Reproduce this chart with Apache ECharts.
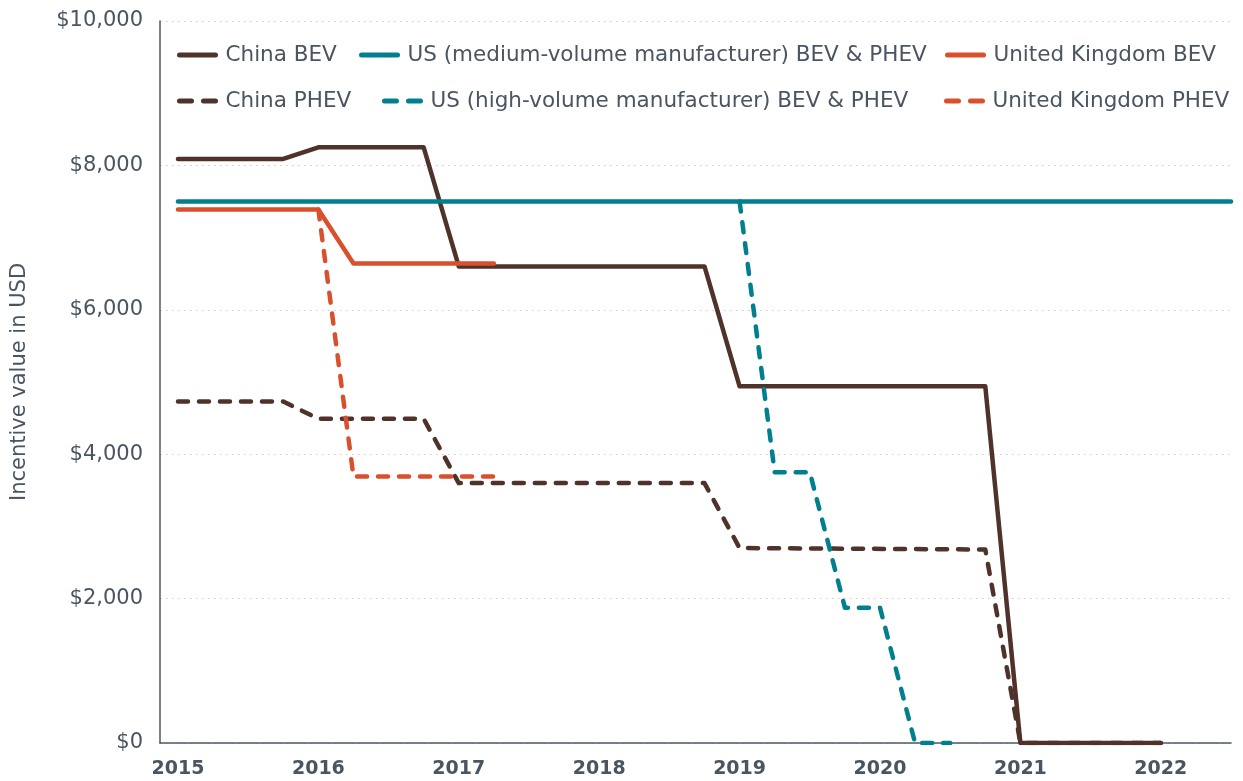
<!DOCTYPE html>
<html>
<head>
<meta charset="utf-8">
<title>Incentive value in USD</title>
<script src="https://cdn.jsdelivr.net/npm/echarts@6/dist/echarts.min.js"></script>
<style>
  html, body { margin: 0; padding: 0; background: #fff; }
  #chart { width: 1243px; height: 781px; }
</style>
</head>
<body>
<div id="chart"></div>
<script>
// ---------------- 数据 ----------------
var yearLabels = [2015, 2016, 2017, 2018, 2019, 2020, 2021, 2022];

var chinaBevYears  = [2015, 2015.75, 2016, 2016.75, 2017, 2018.75, 2019, 2020.75, 2021, 2022];
var chinaBevValues = [8090, 8090, 8250, 8250, 6600, 6600, 4940, 4940, 0, 0];

var chinaPhevYears  = [2015, 2015.75, 2016, 2016.75, 2017, 2018.75, 2019, 2020.75, 2021, 2022];
var chinaPhevValues = [4730, 4730, 4490, 4490, 3600, 3600, 2700, 2680, 0, 0];

var usMediumYears  = [2015, 2022.5];
var usMediumValues = [7500, 7500];

var usHighYears  = [2019, 2019.25, 2019.5, 2019.75, 2020, 2020.25, 2020.5];
var usHighValues = [7500, 3750, 3750, 1875, 1875, 0, 0];

var ukBevYears  = [2015, 2016, 2016.25, 2017.25];
var ukBevValues = [7390, 7390, 6640, 6640];

var ukPhevYears  = [2016, 2016.25, 2017.25];
var ukPhevValues = [7390, 3690, 3690];

// ---------------- 样式 ----------------
var BROWN = '#4f332a';
var TEAL = '#007f8e';
var RED = '#d9512c';
var TEXT = '#4a5562';
var FONT = 'DejaVu Sans';
var DASH = [10, 11];

function zip(xs, ys){
    var arr = [];
    for(var i=0; i<xs.length; i++){
        arr.push([xs[i], ys[i]]);
    }
    return arr;
}

function makeLine(name, xs, ys, color, dashed){
    return {
        name: name,
        type: 'line',
        data: zip(xs, ys),
        symbol: 'none',
        showSymbol: false,
        silent: true,
        lineStyle: {
            color: color,
            width: 4.5,
            type: dashed ? DASH : 'solid',
            cap: 'round',
            join: 'round'
        },
        itemStyle: { color: color }
    };
}

//图例：每项单独定位，图标只画线不画点
function makeLegend(name, left, top, dashed){
    return {
        data: [name],
        left: left,
        top: top,
        padding: 0,
        itemWidth: 36,
        itemHeight: 14,
        selectedMode: false,
        itemStyle: { opacity: 0, borderWidth: 0 },
        lineStyle: {
            width: 5,
            cap: 'round',
            type: dashed ? [12, 12] : 'solid'
        },
        textStyle: {
            color: TEXT,
            fontFamily: FONT,
            fontSize: 21.5,
            padding: [0, 0, 0, 5]
        }
    };
}

var myChart = echarts.init(document.getElementById('chart'));

var option = {
    animation: false,
    backgroundColor: '#fff',
    textStyle: { fontFamily: FONT },
    grid: {
        left: 160,
        top: 21,
        width: 1071,
        height: 722
    },
    legend: [
        makeLegend('China BEV', 177, 44, false),
        makeLegend('US (medium-volume manufacturer) BEV & PHEV', 359, 44, false),
        makeLegend('United Kingdom BEV', 945, 44, false),
        makeLegend('China PHEV', 177, 90, true),
        makeLegend('US (high-volume manufacturer) BEV & PHEV', 382, 90, true),
        makeLegend('United Kingdom PHEV', 944, 90, true)
    ],
    xAxis: {
        type: 'value',
        min: 2014.872,
        max: 2022.5,
        axisLine: { show: true, onZero: false, lineStyle: { color: '#4d5966', width: 1.5 } },
        axisTick: { show: false },
        splitLine: { show: false },
        axisLabel: {
            customValues: yearLabels,
            color: TEXT,
            fontFamily: FONT,
            fontSize: 19,
            fontWeight: 'bold',
            margin: 17,
            formatter: function(v){ return String(v); }
        }
    },
    yAxis: {
        type: 'value',
        min: 0,
        max: 10000,
        interval: 2000,
        name: 'Incentive value in USD',
        nameLocation: 'middle',
        nameGap: 130,
        nameTextStyle: {
            color: TEXT,
            fontFamily: FONT,
            fontSize: 21
        },
        axisLine: { show: true, lineStyle: { color: '#4d5966', width: 1.5 } },
        axisTick: { show: false },
        splitLine: {
            show: true,
            lineStyle: { color: '#c9c9c9', width: 1.2, type: [1.5, 4.5] }
        },
        axisLabel: {
            color: TEXT,
            fontFamily: FONT,
            fontSize: 21,
            margin: 17,
            formatter: function(v){
                return '$' + String(v).replace(/\B(?=(\d{3})+(?!\d))/g, ',');
            }
        }
    },
    series: [
        makeLine('China PHEV', chinaPhevYears, chinaPhevValues, BROWN, true),
        makeLine('China BEV', chinaBevYears, chinaBevValues, BROWN, false),
        makeLine('United Kingdom PHEV', ukPhevYears, ukPhevValues, RED, true),
        makeLine('United Kingdom BEV', ukBevYears, ukBevValues, RED, false),
        makeLine('US (high-volume manufacturer) BEV & PHEV', usHighYears, usHighValues, TEAL, true),
        makeLine('US (medium-volume manufacturer) BEV & PHEV', usMediumYears, usMediumValues, TEAL, false)
    ]
};

myChart.setOption(option);
window.onresize = myChart.resize;
</script>
</body>
</html>
